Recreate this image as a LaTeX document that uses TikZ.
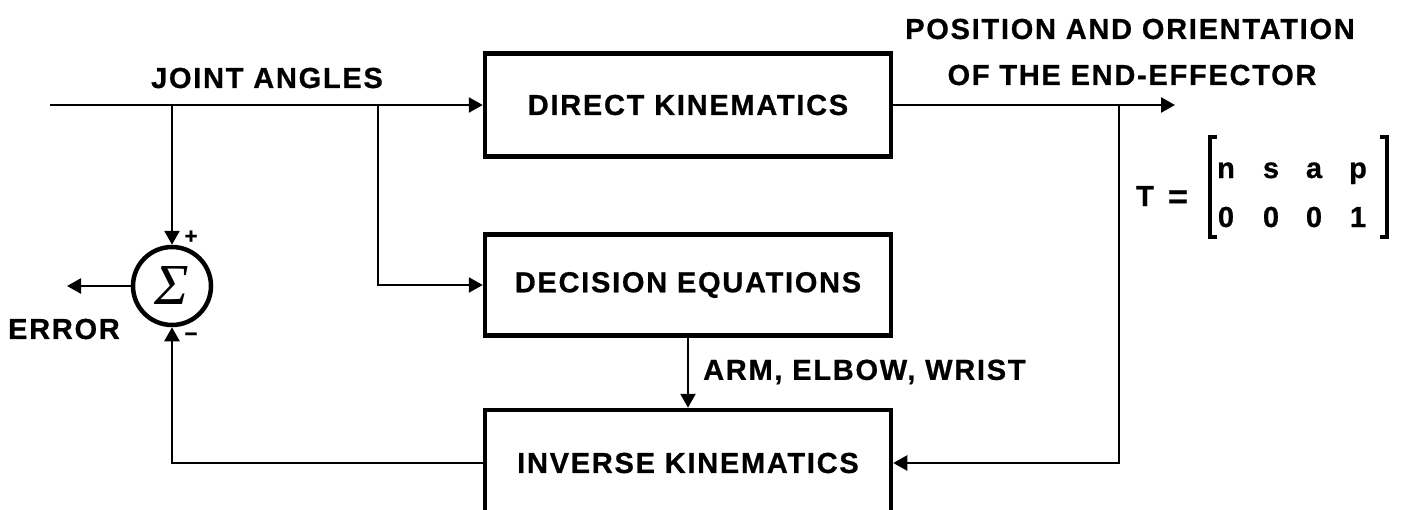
\documentclass[tikz,border=0pt]{standalone}
\usepackage{fontspec}
\setmainfont{Liberation Sans}[LetterSpace=6, BoldFeatures={FakeBold=0.7}]
\newfontfamily\sigmafont{Liberation Serif}
\usetikzlibrary{arrows.meta}

\begin{document}
\begin{tikzpicture}[x=1pt,y=-1pt,
  lbl/.style={font=\fontsize{29}{32}\selectfont\bfseries, inner sep=0pt},
  sign/.style={font=\fontsize{22}{24}\selectfont\bfseries, inner sep=0pt},
  block/.style={draw, line width=4.5pt, minimum width=406pt, inner sep=0pt, lbl},
  wire/.style={line width=2.5pt},
  arr/.style={wire, -{Triangle[length=14pt,width=15pt]}},
  sumnode/.style={circle, draw, line width=4.5pt, minimum size=78pt, inner sep=0pt,
    font=\sigmafont\itshape\fontsize{58}{60}\selectfont},
  bracket/.style={line width=3.5pt},
]
\clip (0,0) rectangle (1406,509);

% blocks
\node[block, minimum height=103pt] (dk) at (688,105) {DIRECT KINEMATICS};
\node[block, minimum height=101pt] (de) at (688,285) {DECISION EQUATIONS};
\node[block, minimum height=106pt] (ik) at (688,463) {INVERSE KINEMATICS};

% summing junction
\node[sumnode] (sum) at (172,286) {Σ};
\node[sign] (plus) at (191,237) {+};
\node[sign] (minus) at (191,337) {−};

% branch points and free ends
\coordinate (in) at (50,105);
\coordinate (t1) at (172,105);
\coordinate (t2) at (378,105);
\coordinate (t3) at (1119,105);
\coordinate (out) at (1175,105);
\coordinate (err) at (67,286);

% connectors
\draw[arr] (in) -- (dk.west);
\draw[arr] (t1) -- (sum.north);
\draw[arr] (t2) |- (de.west);
\draw[arr] (de.south) -- (ik.north);
\draw[arr] (dk.east) -- (out);
\draw[arr] (t3) |- (ik.east);
\draw[arr] (ik.west) -| (sum.south);
\draw[arr] (sum.west) -- (err);

% labels
\node[lbl] (ja) at (267,78) {JOINT ANGLES};
\node[lbl] (error) at (64,329) {ERROR};
\node[lbl, anchor=west] (arm) at (703,372) {ARM, ELBOW, WRIST};
\node[lbl] (pos1) at (1130,29) {POSITION AND ORIENTATION};
\node[lbl] (pos2) at (1132,75) {OF THE END-EFFECTOR};

% homogeneous transformation matrix
\node[lbl, anchor=base] (T) at (1145,206) {T};
\node[lbl, font=\fontsize{34}{36}\selectfont\bfseries, anchor=base] (eq) at (1178,208) {=};
\draw[bracket] (1217,137) -- (1210,137) -- (1210,237) -- (1217,237);
\draw[bracket] (1380,137) -- (1387,137) -- (1387,237) -- (1380,237);
\node[lbl, anchor=base] (m11) at (1226,178) {n};
\node[lbl, anchor=base] (m12) at (1271,178) {s};
\node[lbl, anchor=base] (m13) at (1314,178) {a};
\node[lbl, anchor=base] (m14) at (1358,178) {p};
\node[lbl, anchor=base] (m21) at (1226,227) {0};
\node[lbl, anchor=base] (m22) at (1271,227) {0};
\node[lbl, anchor=base] (m23) at (1314,227) {0};
\node[lbl, anchor=base] (m24) at (1358,227) {1};
\end{tikzpicture}
\end{document}
